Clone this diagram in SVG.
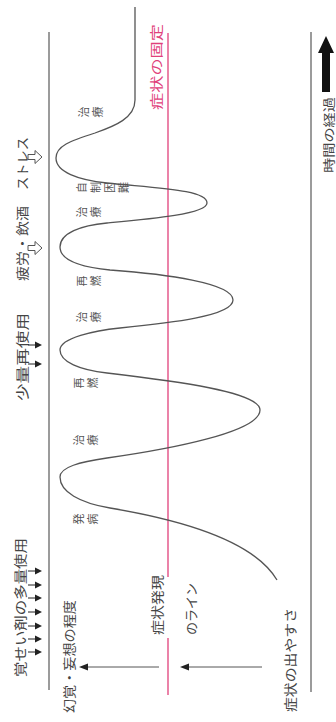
<svg xmlns="http://www.w3.org/2000/svg" width="336" height="722" viewBox="0 0 336 722">
<style>
.t{font-family:"Noto Sans CJK JP","Noto Sans",sans-serif;fill:#444;}
.lab{font-size:13px;}
.sm{font-size:11px;fill:#555;}
.axis{stroke:#7a7a7a;stroke-width:1.5;fill:none;}
.pink{stroke:#e0407a;stroke-width:1.3;fill:none;}
.curve{stroke:#555;stroke-width:1.3;fill:none;}
.con{stroke:#555;stroke-width:1;fill:none;}
</style>
<defs>
<g id="sa"><path d="M0,0 H8" stroke="#222" stroke-width="1"/><polygon points="7,-3.5 14,0 7,3.5" fill="#222"/></g>
<path id="ha" d="M0,-2.5 H7 V-6.5 L14,0 L7,6.5 V2.5 H0 Z" fill="#fff" stroke="#555" stroke-width="1"/>
</defs>
<rect width="336" height="722" fill="#fff"/>
<g id="axes">
<line class="axis" x1="49" y1="32" x2="49" y2="690"/>
<line class="axis" x1="311" y1="32" x2="311" y2="692"/>
</g>
<g id="pink-line">
<line class="pink" x1="168" y1="33" x2="168" y2="577"/>
<line class="pink" x1="168" y1="638" x2="168" y2="695"/>
<text class="t lab" style="fill:#e0407a" transform="translate(155,110) rotate(-90)" textLength="86" lengthAdjust="spacingAndGlyphs" dominant-baseline="central">症状の固定</text>
</g>
<g id="connectors">
<path class="curve" d="M135,7 L135,100 C135,118 115,126 95,133 C70,141 56,146 56,158 C56,172 78,180 107,183 C160,188.5 207,190 207,203 C207,214 150,219 107,223 C81,225.4 60,233 60,247 C60,260 80,267 110,270 C165,274 233,283 233,300 C233,316 170,323 120,328 C95,330.5 60,338 60,350 C60,362 80,370 107,373 C175,381 260,392 260,410 C260,432 170,449 107,458 C80,462 60,467 60,477 C60,492 80,503 110,508 C200,523 257,546 277,580"/>
<line class="con" x1="87" y1="667" x2="159" y2="667"/>
<polygon points="79,667 88,663.5 88,670.5" fill="#222"/>
<line class="con" x1="188" y1="667" x2="262" y2="667"/>
<polygon points="180,667 189,663.5 189,670.5" fill="#222"/>
</g>
<g id="curve-labels">
<text class="t sm" transform="translate(83,112) rotate(-90)" x="0 0" y="0 14" text-anchor="middle" dominant-baseline="central">治療</text>
<text class="t sm" transform="translate(81,187.5) rotate(-90)" x="0 0 0 0" y="0 14 28 42" text-anchor="middle" dominant-baseline="central">自制困難</text>
<text class="t sm" transform="translate(81,212) rotate(-90)" x="0 0" y="0 14" text-anchor="middle" dominant-baseline="central">治療</text>
<text class="t sm" transform="translate(81,281) rotate(-90)" x="0 0" y="0 14" text-anchor="middle" dominant-baseline="central">再燃</text>
<text class="t sm" transform="translate(81,317) rotate(-90)" x="0 0" y="0 14" text-anchor="middle" dominant-baseline="central">治療</text>
<text class="t sm" transform="translate(78,383) rotate(-90)" x="0 0" y="0 14" text-anchor="middle" dominant-baseline="central">再燃</text>
<text class="t sm" transform="translate(78,440) rotate(-90)" x="0 0" y="0 14" text-anchor="middle" dominant-baseline="central">治療</text>
<text class="t sm" transform="translate(78,519) rotate(-90)" x="0 0" y="0 14" text-anchor="middle" dominant-baseline="central">発病</text>
</g>
<g id="stress">
<text class="t lab" transform="translate(21,190) rotate(-90)" textLength="53" lengthAdjust="spacingAndGlyphs" dominant-baseline="central">ストレス</text>
<use href="#ha" x="28" y="157"/>
</g>
<g id="fatigue">
<text class="t lab" transform="translate(21,281) rotate(-90)" textLength="75" lengthAdjust="spacingAndGlyphs" dominant-baseline="central">疲労・飲酒</text>
<use href="#ha" x="28" y="248"/>
</g>
<g id="small-reuse">
<text class="t lab" transform="translate(21,401) rotate(-90)" textLength="88" lengthAdjust="spacingAndGlyphs" dominant-baseline="central">少量再使用</text>
<use href="#sa" x="28" y="345"/>
<use href="#sa" x="28" y="364"/>
</g>
<g id="heavy-use">
<text class="t lab" transform="translate(19,677) rotate(-90)" textLength="139" lengthAdjust="spacingAndGlyphs" dominant-baseline="central">覚せい剤の多量使用</text>
<use href="#sa" x="28" y="571"/>
<use href="#sa" x="28" y="585"/>
<use href="#sa" x="28" y="598"/>
<use href="#sa" x="28" y="612"/>
<use href="#sa" x="28" y="626"/>
<use href="#sa" x="28" y="639"/>
<use href="#sa" x="28" y="652"/>
</g>
<g id="hallucination">
<text class="t lab" transform="translate(68,713) rotate(-90)" textLength="113" lengthAdjust="spacingAndGlyphs" dominant-baseline="central">幻覚・妄想の程度</text>
</g>
<g id="onset-line">
<text class="t lab" transform="translate(156,635) rotate(-90)" textLength="60" lengthAdjust="spacingAndGlyphs" dominant-baseline="central">症状発現</text>
<text class="t lab" transform="translate(190,635) rotate(-90)" textLength="52" lengthAdjust="spacingAndGlyphs" dominant-baseline="central">のライン</text>
</g>
<g id="susceptibility">
<text class="t lab" transform="translate(289,712) rotate(-90)" textLength="104" lengthAdjust="spacingAndGlyphs" dominant-baseline="central">症状の出やすさ</text>
</g>
<g id="time">
<polygon points="326,36 334,53 330,53 330,92 322,92 322,53 318,53" fill="#111"/>
<text class="t" style="font-size:12px" transform="translate(328,173) rotate(-90)" textLength="76" lengthAdjust="spacingAndGlyphs" dominant-baseline="central">時間の経過</text>
</g>
</svg>
